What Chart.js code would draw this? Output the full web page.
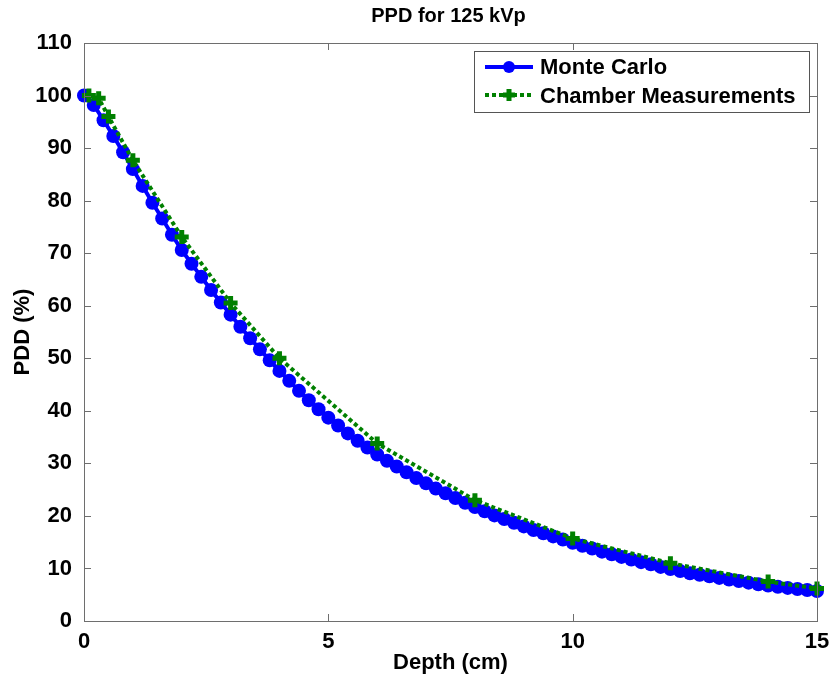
<!DOCTYPE html>
<html lang="en">
<head>
    <meta charset="UTF-8">
    <title>PPD for 125 kVp</title>
    <script src="https://cdn.jsdelivr.net/npm/chart.js"></script>
    <style>
        body { margin: 0; background: #fff; }
        #wrap { width: 833px; height: 681px; }
    </style>
</head>
<body>
    <div id="wrap"><canvas id="pddChart"></canvas></div>

    <script>
        // Monte Carlo curve (depth in cm, PDD in %)
        const depthMC = [0, 0.2, 0.4, 0.6, 0.8, 1, 1.2, 1.4, 1.6, 1.8, 2, 2.2, 2.4, 2.6, 2.8, 3, 3.2, 3.4, 3.6, 3.8,
            4, 4.2, 4.4, 4.6, 4.8, 5, 5.2, 5.4, 5.6, 5.8, 6, 6.2, 6.4, 6.6, 6.8, 7, 7.2, 7.4, 7.6, 7.8,
            8, 8.2, 8.4, 8.6, 8.8, 9, 9.2, 9.4, 9.6, 9.8, 10, 10.2, 10.4, 10.6, 10.8, 11, 11.2, 11.4, 11.6, 11.8,
            12, 12.2, 12.4, 12.6, 12.8, 13, 13.2, 13.4, 13.6, 13.8, 14, 14.2, 14.4, 14.6, 14.8, 15];
        const pddMC = [100, 98.2, 95.3, 92.3, 89.2, 86.0, 82.8, 79.6, 76.6, 73.5, 70.6, 68.0, 65.5, 63.0, 60.6, 58.3, 56.0, 53.8, 51.7, 49.6,
            47.6, 45.7, 43.8, 42.0, 40.3, 38.7, 37.2, 35.7, 34.3, 33.0, 31.7, 30.5, 29.4, 28.3, 27.2, 26.2, 25.2, 24.3, 23.4, 22.5,
            21.7, 20.9, 20.1, 19.4, 18.7, 18.0, 17.3, 16.7, 16.1, 15.5, 14.9, 14.3, 13.8, 13.2, 12.7, 12.2, 11.7, 11.2, 10.8, 10.3,
            9.9, 9.5, 9.1, 8.8, 8.5, 8.2, 7.9, 7.6, 7.3, 7.0, 6.75, 6.5, 6.3, 6.1, 5.9, 5.7];

        // Chamber measurements
        const depthChamber = [0.1, 0.3, 0.5, 1, 2, 3, 4, 6, 8, 10, 12, 14, 15];
        const pddChamber = [100, 99.5, 96, 87.7, 73.1, 60.5, 50, 33.8, 23, 15.7, 11, 7.5, 6.2];

        const xTicks = [0, 5, 10, 15];
        const yTicks = [0, 10, 20, 30, 40, 50, 60, 70, 80, 90, 100, 110];

        const toPoints = (xs, ys) => xs.map((x, i) => ({ x: x, y: ys[i] }));

        const fontFamily = '"Liberation Sans", Arial, sans-serif';

        // title over the axes, axes box, inward ticks and the boxed legend (MATLAB look)
        const matlabBox = {
            id: 'matlabBox',
            afterDraw(chart) {
                const ctx = chart.ctx;
                const area = chart.chartArea;
                const xs = chart.scales.x;
                const ys = chart.scales.y;
                ctx.save();

                ctx.fillStyle = '#000';
                ctx.font = 'bold 20px ' + fontFamily;
                ctx.textAlign = 'center';
                ctx.textBaseline = 'middle';
                ctx.fillText('PPD for 125 kVp', (area.left + area.right) / 2 - 2, 16);

                ctx.strokeStyle = '#6e6e6e';
                ctx.lineWidth = 1;
                ctx.strokeRect(area.left + 0.5, area.top + 0.5, area.right - area.left, area.bottom - area.top);
                ctx.beginPath();
                yTicks.forEach(v => {
                    const py = Math.round(ys.getPixelForValue(v)) + 0.5;
                    ctx.moveTo(area.left, py); ctx.lineTo(area.left + 7, py);
                    ctx.moveTo(area.right, py); ctx.lineTo(area.right - 7, py);
                });
                xTicks.forEach(v => {
                    const px = Math.round(xs.getPixelForValue(v)) + 0.5;
                    ctx.moveTo(px, area.bottom); ctx.lineTo(px, area.bottom - 7);
                    ctx.moveTo(px, area.top); ctx.lineTo(px, area.top + 7);
                });
                ctx.stroke();

                // legend
                const lx = 474, ly = 51, lw = 335, lh = 61;
                ctx.fillStyle = '#fff';
                ctx.fillRect(lx, ly, lw, lh);
                ctx.strokeStyle = '#555';
                ctx.strokeRect(lx + 0.5, ly + 0.5, lw, lh);

                ctx.lineWidth = 4;
                ctx.strokeStyle = '#0000ff';
                ctx.beginPath(); ctx.moveTo(485, 67); ctx.lineTo(533, 67); ctx.stroke();
                ctx.fillStyle = '#0000ff';
                ctx.beginPath(); ctx.arc(509, 67, 6, 0, Math.PI * 2); ctx.fill();

                ctx.strokeStyle = '#008000';
                ctx.setLineDash([4, 3]);
                ctx.beginPath(); ctx.moveTo(485, 95); ctx.lineTo(533, 95); ctx.stroke();
                ctx.setLineDash([]);
                ctx.lineWidth = 5;
                ctx.beginPath();
                ctx.moveTo(503, 95); ctx.lineTo(515, 95);
                ctx.moveTo(509, 89); ctx.lineTo(509, 101);
                ctx.stroke();

                ctx.fillStyle = '#000';
                ctx.font = 'bold 22px ' + fontFamily;
                ctx.textAlign = 'left';
                ctx.fillText('Monte Carlo', 540, 68);
                ctx.fillText('Chamber Measurements', 540, 97);
                ctx.restore();
            }
        };

        const labelFont = { family: fontFamily, size: 22, weight: 'bold' };

        const pddChart = new Chart(document.getElementById('pddChart'), {
            type: 'line',
            data: {
                datasets: [{
                    label: 'Monte Carlo',
                    data: toPoints(depthMC, pddMC),
                    borderColor: '#0000ff',
                    backgroundColor: '#0000ff',
                    borderWidth: 4,
                    pointRadius: 7,
                    pointBorderWidth: 0,
                    pointHoverRadius: 7,
                    tension: 0,
                    clip: false,
                    order: 2
                }, {
                    label: 'Chamber Measurements',
                    data: toPoints(depthChamber, pddChamber),
                    borderColor: '#008000',
                    backgroundColor: '#008000',
                    borderWidth: 4,
                    borderDash: [4, 3],
                    pointStyle: 'cross',
                    pointRadius: 7,
                    pointBorderWidth: 5,
                    pointHoverRadius: 7,
                    tension: 0,
                    clip: false,
                    order: 1
                }]
            },
            options: {
                responsive: true,
                maintainAspectRatio: false,
                animation: false,
                layout: { padding: { left: 0, right: 16, top: 43, bottom: 0 } },
                plugins: {
                    legend: { display: false },
                    tooltip: { enabled: false },
                    title: { display: false }
                },
                scales: {
                    x: {
                        type: 'linear',
                        min: 0,
                        max: 15,
                        afterFit(scale) {
                            scale.height = 60;
                            scale.paddingLeft = 0;
                            scale.paddingRight = 0;
                        },
                        afterBuildTicks(scale) { scale.ticks = xTicks.map(v => ({ value: v })); },
                        grid: { display: false },
                        border: { display: false },
                        ticks: { color: '#000', font: labelFont, padding: 0, maxRotation: 0 },
                        title: { display: true, text: 'Depth (cm)', color: '#000', font: labelFont, padding: { top: 0, bottom: 5 } }
                    },
                    y: {
                        min: 0,
                        max: 110,
                        afterFit(scale) {
                            scale.width = 84;
                            scale.paddingTop = 0;
                            scale.paddingBottom = 0;
                        },
                        afterBuildTicks(scale) { scale.ticks = yTicks.map(v => ({ value: v })); },
                        grid: { display: false },
                        border: { display: false },
                        ticks: { color: '#000', font: labelFont, padding: 4 },
                        title: { display: true, text: 'PDD (%)', color: '#000', font: labelFont, padding: { top: 10, bottom: 0 } }
                    }
                }
            },
            plugins: [matlabBox]
        });
    </script>
</body>
</html>
